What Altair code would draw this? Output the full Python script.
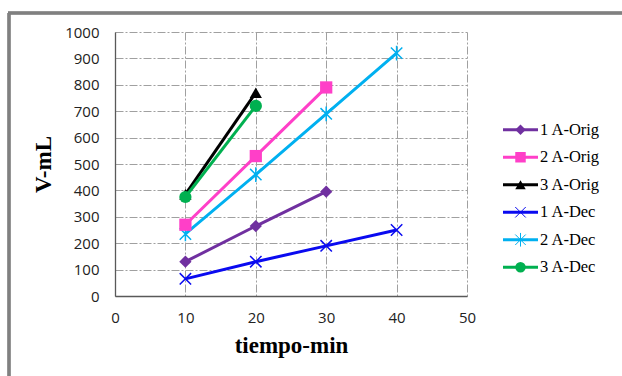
import altair as alt
import pandas as pd

# ---- data ----
series = ["1 A-Orig", "2 A-Orig", "3 A-Orig", "1 A-Dec", "2 A-Dec", "3 A-Dec"]
colors = ["#7030A0", "#FF3FC8", "#000000", "#0A0AF0", "#00B0F0", "#00B050"]

t_1_orig = [10, 20, 30]
v_1_orig = [130, 265, 395]
t_2_orig = [10, 20, 30]
v_2_orig = [270, 530, 790]
t_3_orig = [10, 20]
v_3_orig = [385, 770]
t_1_dec = [10, 20, 30, 40]
v_1_dec = [65, 130, 190, 250]
t_2_dec = [10, 20, 30, 40]
v_2_dec = [235, 460, 690, 920]
t_3_dec = [10, 20]
v_3_dec = [375, 720]

x_ticks = [0, 10, 20, 30, 40, 50]
y_ticks = [0, 100, 200, 300, 400, 500, 600, 700, 800, 900, 1000]

X_PATH = "M-1,-1L1,1M-1,1L1,-1"
STAR_PATH = "M-1,-1L1,1M-1,1L1,-1M0,-1.3L0,1.3"
shapes = ["diamond", "square", "triangle-up", X_PATH, STAR_PATH, "circle"]
filled_series = ["1 A-Orig", "2 A-Orig", "3 A-Orig", "3 A-Dec"]

rows = []
for name, ts, vs in zip(series,
                        [t_1_orig, t_2_orig, t_3_orig, t_1_dec, t_2_dec, t_3_dec],
                        [v_1_orig, v_2_orig, v_3_orig, v_1_dec, v_2_dec, v_3_dec]):
    for t, v in zip(ts, vs):
        rows.append({"series": name, "tiempo": t, "V": v, "ord": series.index(name)})
df = pd.DataFrame(rows)
legend_df = pd.DataFrame({"series": series, "ord": list(range(len(series)))})

color_enc = alt.Color("series:N", scale=alt.Scale(domain=series, range=colors), legend=None)
shape_enc = alt.Shape("series:N", scale=alt.Scale(domain=series, range=shapes), legend=None)

GRID_DASH = [8, 2, 2, 2]

x_enc = alt.X("tiempo:Q", scale=alt.Scale(domain=[0, 50], nice=False),
              axis=alt.Axis(values=x_ticks, title="tiempo-min", format="d"))
y_enc = alt.Y("V:Q", scale=alt.Scale(domain=[0, 1000], nice=False),
              axis=alt.Axis(values=y_ticks, title="V-mL", format="d"))

base = alt.Chart(df)
lines = base.mark_line(strokeWidth=3).encode(
    x=x_enc, y=y_enc, color=color_enc, detail="series:N", order="tiempo:Q")
pts_filled = base.transform_filter(
    alt.FieldOneOfPredicate(field="series", oneOf=filled_series)
).mark_point(filled=True, opacity=1, size=150).encode(
    x=x_enc, y=y_enc, color=color_enc, shape=shape_enc)
pts_open = base.transform_filter(
    ~alt.FieldOneOfPredicate(field="series", oneOf=filled_series)
).mark_point(filled=False, opacity=1, size=130, strokeWidth=1.5).encode(
    x=x_enc, y=y_enc, color=color_enc, shape=shape_enc)

main = alt.layer(lines, pts_open, pts_filled)

# ---- legend (right side) ----
ly = alt.Y("series:N", scale=alt.Scale(type="point", domain=series, range=[84, 249]), axis=None)
lbase = alt.Chart(legend_df)
leg_rule = lbase.mark_rule(strokeWidth=3).encode(
    y=ly, x=alt.value(388), x2=alt.value(423), color=color_enc)
leg_pts_f = lbase.transform_filter(
    alt.FieldOneOfPredicate(field="series", oneOf=filled_series)
).mark_point(filled=True, opacity=1, size=110).encode(
    y=ly, x=alt.value(405.5), color=color_enc, shape=shape_enc)
leg_pts_o = lbase.transform_filter(
    ~alt.FieldOneOfPredicate(field="series", oneOf=filled_series)
).mark_point(filled=False, opacity=1, size=110, strokeWidth=1).encode(
    y=ly, x=alt.value(405.5), color=color_enc, shape=shape_enc)
leg_text = lbase.mark_text(align="left", baseline="middle", font="Liberation Serif",
                           fontSize=16.5, color="#000000").encode(
    y=ly, x=alt.value(425), text="series:N")
legend = alt.layer(leg_rule, leg_pts_o, leg_pts_f, leg_text)

# ---- outer frame ----
frame_left = alt.Chart(legend_df).mark_rule(color="#808080", strokeWidth=2.5).encode(
    x=alt.value(-106), y=alt.value(-19), y2=alt.value(360))
frame_top = alt.Chart(legend_df).mark_rule(color="#808080", strokeWidth=2.5).encode(
    x=alt.value(-107), x2=alt.value(520), y=alt.value(-19))

chart = alt.layer(main, legend, frame_left, frame_top).resolve_scale(
    y="independent"
).properties(
    width=352, height=264,
    autosize=alt.AutoSizeParams(type="none"),
    padding={"left": 115, "top": 32, "right": 155, "bottom": 80},
    background="#ffffff",
).configure_view(
    stroke=None
).configure_axis(
    grid=True, gridColor="#A0A0A0", gridDash=GRID_DASH, gridWidth=1,
    domainColor="#595959", domainWidth=1.3, ticks=False,
    labelFont="Open Sans", labelFontSize=15, labelColor="#222222",
    titleFont="Liberation Serif", titleFontSize=23, titleFontWeight="bold",
    titleColor="#000000",
).configure_axisX(
    labelPadding=14, titlePadding=9, labelFlush=False,
).configure_axisY(
    labelPadding=16, titlePadding=9, labelFlush=False,
)

chart.save("out.html", embed_options={"renderer": "svg", "actions": False})
